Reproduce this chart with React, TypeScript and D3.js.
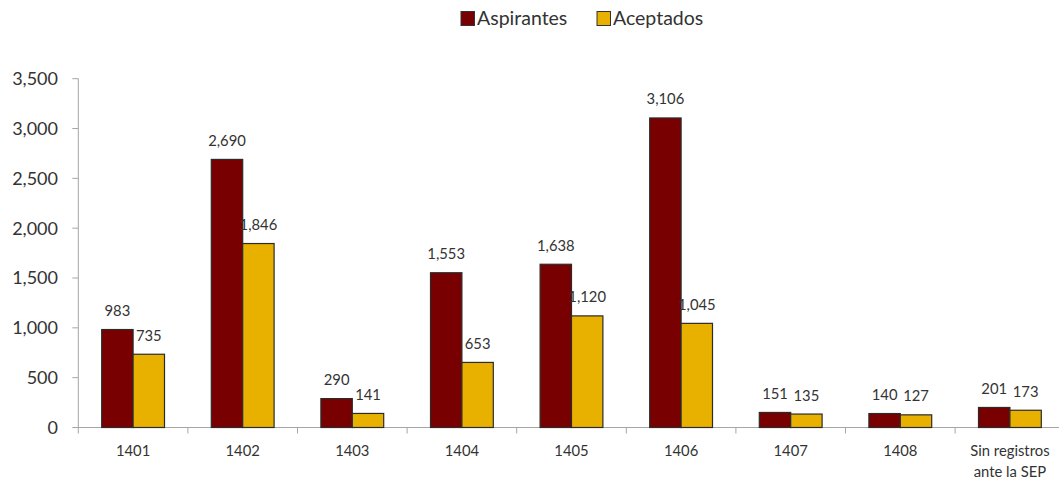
import React from "react";
import * as d3 from "d3";

const categories: string[][] = [
  ["1401"], ["1402"], ["1403"], ["1404"], ["1405"], ["1406"], ["1407"], ["1408"],
  ["Sin registros", "ante la SEP"],
];
const aspirantes: number[] = [983, 2690, 290, 1553, 1638, 3106, 151, 140, 201];
const aceptados: number[] = [735, 1846, 141, 653, 1120, 1045, 135, 127, 173];
const yTicks: number[] = [0, 500, 1000, 1500, 2000, 2500, 3000, 3500];
const seriesNames: string[] = ["Aspirantes", "Aceptados"];

const W = 1059;
const H = 483;
const COLORS = ["#780000", "#E8B100"];
const FONT = "Lato, 'Open Sans', sans-serif";
const TEXT = "#333333";
const AXIS = "#A6A6A6";

export default function App() {
  const x0 = 78.3;
  const bandW = 109.6;
  const keys = categories.map((_, i) => String(i));
  const x = d3.scaleBand<string>().domain(keys).range([x0, x0 + bandW * keys.length]).paddingInner(0).paddingOuter(0);
  const y = d3.scaleLinear().domain([0, 3500]).range([427.5, 78.7]);
  const barW = 31.4;
  const fmt = d3.format(",");
  const series = [aspirantes, aceptados];

  return (
    <svg width={W} height={H} style={{ position: "absolute", left: 0, top: 0, background: "#fff" }} fontFamily={FONT}>
      {/* legend */}
      {seriesNames.map((n, i) => {
        const lx = [461, 597][i];
        return (
          <g key={n}>
            <rect x={lx} y={11.5} width={13.5} height={14} fill={COLORS[i]} stroke="#333" strokeWidth={1} />
            <text x={lx + 16} y={18.5} dy="0.35em" fontSize={19.5} fill={TEXT}>{n}</text>
          </g>
        );
      })}

      {/* y axis */}
      <line x1={x0} x2={x0} y1={y(3500)} y2={y(0)} stroke={AXIS} strokeWidth={1} />
      {yTicks.map((t) => (
        <g key={t}>
          <line x1={x0 - 6} x2={x0} y1={y(t)} y2={y(t)} stroke={AXIS} strokeWidth={1} />
          <text x={58} y={y(t)} dy="0.36em" textAnchor="end" fontSize={18} fill={TEXT}>{fmt(t)}</text>
        </g>
      ))}

      {/* x axis */}
      <line x1={x0} x2={W + 10} y1={y(0)} y2={y(0)} stroke={AXIS} strokeWidth={1} />
      {keys.map((k) => (
        <line key={"t" + k} x1={x(k)!} x2={x(k)!} y1={y(0)} y2={y(0) + 6} stroke={AXIS} strokeWidth={1} />
      ))}
      {keys.map((k, i) => (
        <text key={"l" + k} x={x(k)! + bandW / 2} y={455.5} textAnchor="middle" fontSize={14.8} fill={TEXT}>
          {categories[i].map((line, j) => (
            <tspan key={j} x={x(k)! + bandW / 2} dy={j === 0 ? 0 : 21}>{line}</tspan>
          ))}
        </text>
      ))}

      {/* bars */}
      {series.map((vals, si) =>
        vals.map((v, i) => {
          const bx = x(keys[i])! + (bandW - 2 * barW) / 2 + si * barW;
          return (
            <g key={si + "-" + i}>
              <rect x={bx} y={y(v)} width={barW} height={y(0) - y(v)} fill={COLORS[si]} stroke="#2b2b2b" strokeWidth={1.2} />
              <text x={bx + barW / 2} y={y(v) - 13.5} textAnchor="middle" fontSize={14.8} fill={TEXT}>{fmt(v)}</text>
            </g>
          );
        })
      )}
    </svg>
  );
}
